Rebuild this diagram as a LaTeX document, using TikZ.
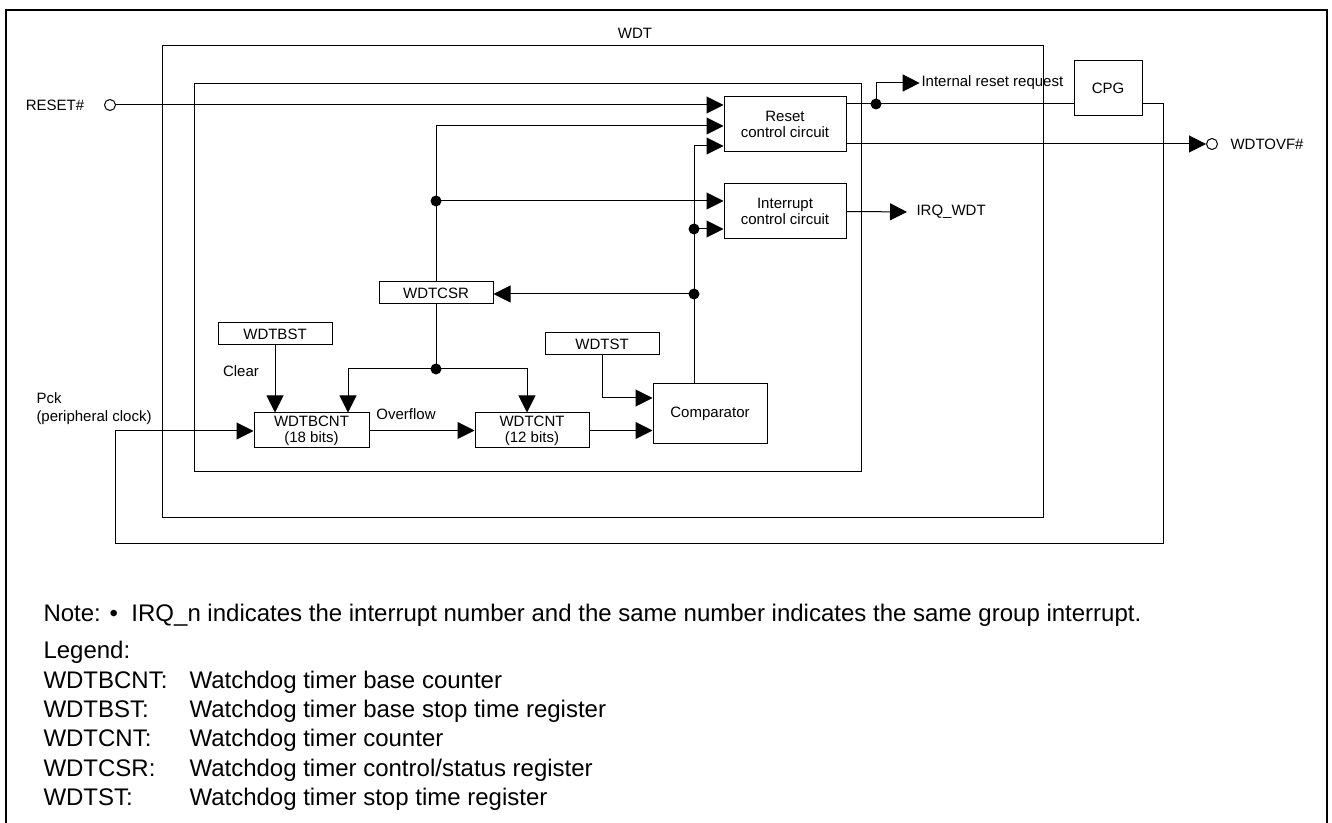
\documentclass[tikz,border=0pt]{standalone}
\usepackage{fontspec}
\setmainfont{Liberation Sans}
\usetikzlibrary{arrows.meta}
\newcommand\dgf{\fontsize{11.25}{12}\selectfont}
\newcommand\pckf{\fontsize{11.25}{13.5}\selectfont}
\newcommand\ntf{\fontsize{18}{21}\selectfont}
\begin{document}
\begin{tikzpicture}[x=0.75pt,y=-0.75pt, line width=0.75pt,
 box/.style={draw, rectangle, inner sep=0pt, align=center, font=\dgf},
 arr/.style={-{Triangle[length=12.75pt,width=12.75pt]}},
 jdot/.style={circle, fill, inner sep=0pt, minimum size=8.25pt},
 pinc/.style={circle, draw, fill=white, inner sep=0pt, minimum size=8.25pt},
 lbl/.style={inner sep=0pt, font=\dgf},
 ntxt/.style={inner sep=0pt, font=\ntf, anchor=west, text height=13pt, text depth=4pt},
 frame/.style={line width=1.6pt}]
\useasboundingbox (0,0) rectangle (1332,823);
\draw[frame] (6,830) -- (6,10) -- (1327,10) -- (1327,830);
\draw (162,46) rectangle (1043,517);
\draw (194,84) rectangle (861,472);
\node[lbl] (wdt) at (635,33) {WDT};

% boxes
\node[box, minimum width=91.5pt, minimum height=41.25pt] (reset) at (785,124.5) {Reset\\control circuit};
\node[box, minimum width=91.5pt, minimum height=41.25pt] (intr) at (785,211.5) {Interrupt\\control circuit};
\node[box, minimum width=51pt, minimum height=41.25pt] (cpg) at (1108,88.5) {CPG};
\node[box, minimum width=85.5pt, minimum height=16.5pt] (wdtcsr) at (436,293) {WDTCSR};
\node[box, minimum width=85.5pt, minimum height=16.5pt] (wdtbst) at (275,334) {WDTBST};
\node[box, minimum width=85.5pt, minimum height=16.5pt] (wdtst) at (602,344) {WDTST};
\node[box, minimum width=86.25pt, minimum height=26.25pt] (wdtbcnt) at (311.5,430.5) {WDTBCNT\\(18 bits)};
\node[box, minimum width=85.5pt, minimum height=26.25pt] (wdtcnt) at (532,430.5) {WDTCNT\\(12 bits)};
\node[box, minimum width=85.5pt, minimum height=45pt] (comp) at (710,414) {Comparator};

% pins and labels
\node[pinc] (rstpin) at (110,105) {};
\node[lbl] (rstlbl) at (55,105) {RESET\#};
\node[pinc] (ovfpin) at (1212,144) {};
\node[lbl, anchor=west] (ovflbl) at (1230,144) {WDTOVF\#};
\node[lbl, anchor=west] (irr) at (921,83) {Internal reset request};
\node[lbl, anchor=west] (irq) at (916,212) {IRQ\_WDT};
\node[lbl, anchor=west, align=left, font=\pckf] (pck) at (36,409) {Pck\\(peripheral clock)};
\node[lbl] (clr) at (241,371) {Clear};
\node[lbl] (ovfl) at (406,414) {Overflow};

% connectors
\draw[arr] (rstpin.east) -- (rstpin -| reset.west);
\coordinate (c1) at (436,126);
\draw[arr] (wdtcsr.north) -- (c1) -- (c1 -| reset.west);
\node[jdot] (d1) at (436,201) {};
\draw[arr] (d1.center) -- (d1 -| intr.west);
\coordinate (c2) at (694,146);
\draw[arr] (c2 |- comp.north) -- (c2) -- (c2 -| reset.west);
\node[jdot] (d2) at (694,229) {};
\draw[arr] (d2.center) -- (d2 -| intr.west);
\node[jdot] (d3) at (694,294) {};
\draw[arr] (d3.center) -- (d3 -| wdtcsr.east);
\node[jdot] (d4) at (436,369) {};
\draw (wdtcsr.south) -- (d4.center);
\coordinate (b1) at (348,369);
\coordinate (b2) at (527,369);
\draw[arr] (d4.center) -- (b1) -- (b1 |- wdtbcnt.north);
\draw[arr] (d4.center) -- (b2) -- (b2 |- wdtcnt.north);
\draw[arr] (wdtbst.south) -- (wdtbst.south |- wdtbcnt.north);
\draw[arr] (wdtbcnt.east) -- (wdtcnt.west);
\draw[arr] (wdtcnt.east) -- (wdtcnt.east -| comp.west);
\coordinate (c3) at (602,398);
\draw[arr] (wdtst.south) -- (c3) -- (c3 -| comp.west);
\node[jdot] (d5) at (876,104) {};
\draw (d5 -| reset.east) -- (d5 -| cpg.west);
\draw[arr] (d5.center) |- ([xshift=-1pt]irr.west);
\draw[arr] (ovfpin -| reset.east) -- (ovfpin.west);
\draw[arr, shorten >=6.75pt] (intr.east) -- (irq.west);
\coordinate (p1) at (1163,104);
\coordinate (p2) at (1163,543);
\coordinate (p3) at (115,543);
\coordinate (p4) at (115,431);
\draw[arr] (p1 -| cpg.east) -- (p1) -- (p2) -- (p3) -- (p4) -- (p4 -| wdtbcnt.west);

% note and legend
\node[ntxt] (note) at (43,615) {Note: •\ \ IRQ\_n indicates the interrupt number and the same number indicates the same group interrupt.};
\node[ntxt] (leg) at (43,652) {Legend:};
\node[ntxt] (t1) at (43,682) {WDTBCNT:};
\node[ntxt] (t2) at (43,711) {WDTBST:};
\node[ntxt] (t3) at (43,740) {WDTCNT:};
\node[ntxt] (t4) at (43,770) {WDTCSR:};
\node[ntxt] (t5) at (43,799) {WDTST:};
\node[ntxt] (e1) at (189,682) {Watchdog timer base counter};
\node[ntxt] (e2) at (189,711) {Watchdog timer base stop time register};
\node[ntxt] (e3) at (189,740) {Watchdog timer counter};
\node[ntxt] (e4) at (189,770) {Watchdog timer control/status register};
\node[ntxt] (e5) at (189,799) {Watchdog timer stop time register};
\end{tikzpicture}
\end{document}
